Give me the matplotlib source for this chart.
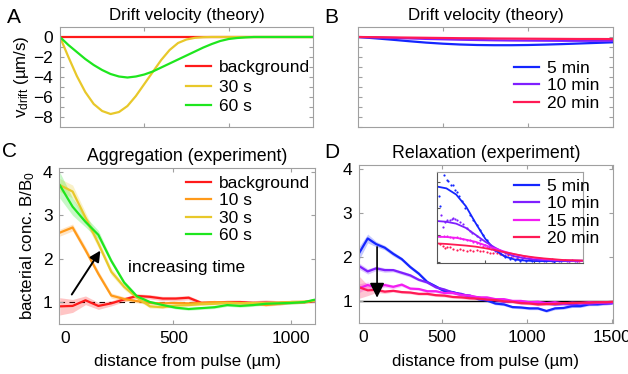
import numpy as np
import matplotlib
matplotlib.use("Agg")
import matplotlib.pyplot as plt

# ---- A: drift velocity (theory), short pulses ----
x_theory = np.arange(0, 1501, 50)
v_background = [0.0] * 31
v_30s = [0, -2.0, -3.9, -5.5, -6.7, -7.4, -7.7, -7.5, -6.9, -5.9, -4.7, -3.5, -2.3, -1.3,
         -0.6, -0.25, -0.08, -0.02, 0, 0, 0, 0, 0, 0, 0, 0, 0, 0, 0, 0, 0]
v_60s = [0, -0.8, -1.5, -2.2, -2.8, -3.3, -3.7, -3.95, -4.05, -3.95, -3.75, -3.45, -3.05,
         -2.65, -2.25, -1.85, -1.45, -1.05, -0.7, -0.4, -0.2, -0.1, -0.04, 0, 0, 0, 0, 0, 0, 0, 0]

# ---- B: drift velocity (theory), relaxation ----
x_relax_theory = np.arange(0, 1501, 100)
v_5min = [0, -0.13, -0.27, -0.42, -0.56, -0.67, -0.75, -0.8, -0.82, -0.82, -0.8, -0.76,
          -0.71, -0.65, -0.59, -0.53]
v_10min = [0, -0.04, -0.09, -0.14, -0.19, -0.23, -0.27, -0.3, -0.33, -0.35, -0.36, -0.37,
           -0.38, -0.38, -0.38, -0.37]
v_20min = [0, -0.02, -0.04, -0.06, -0.08, -0.1, -0.12, -0.13, -0.15, -0.16, -0.17, -0.18,
           -0.19, -0.2, -0.2, -0.21]

# ---- C: aggregation (experiment) ----
x_agg = [15, 70, 125, 180, 235, 290, 345, 400, 455, 510, 565, 620, 675, 730, 785, 840,
         895, 950, 1005, 1060, 1100]
b_background = [0.9, 0.91, 1.04, 0.91, 0.97, 1.06, 1.14, 1.12, 1.08, 1.08, 1.1, 0.98, 0.99,
                1.0, 1.0, 0.98, 0.99, 0.98, 1.0, 1.0, 1.02]
e_background = [0.2, 0.15, 0.1, 0.08, 0.06, 0.05, 0.05, 0.05, 0.05, 0.05, 0.05, 0.04, 0.04,
                0.04, 0.04, 0.05, 0.06, 0.05, 0.04, 0.03, 0.03]
b_10s = [2.6, 2.72, 2.2, 1.65, 1.15, 1.07, 1.02, 0.98, 0.97, 0.98, 0.97, 0.98, 1.0, 0.99,
         0.98, 0.97, 0.93, 0.96, 0.99, 1.0, 1.03]
e_10s = [0.08, 0.08, 0.08, 0.07, 0.06, 0.05, 0.04, 0.04, 0.03, 0.03, 0.03, 0.03, 0.03, 0.03,
         0.03, 0.03, 0.03, 0.03, 0.03, 0.03, 0.03]
b_30s = [3.7, 3.55, 2.95, 2.35, 1.7, 1.35, 1.1, 0.9, 0.88, 0.92, 0.93, 0.95, 0.96, 0.98,
         0.97, 0.98, 0.98, 0.99, 1.0, 1.01, 1.03]
e_30s = [0.15, 0.15, 0.12, 0.1, 0.08, 0.06, 0.05, 0.04, 0.03, 0.03, 0.03, 0.03, 0.03, 0.03,
         0.03, 0.03, 0.03, 0.03, 0.03, 0.03, 0.03]
b_60s = [3.7, 3.2, 2.85, 2.55, 1.95, 1.45, 1.13, 1.0, 0.93, 0.87, 0.84, 0.86, 0.88, 0.93,
         0.91, 0.93, 0.96, 0.97, 0.98, 1.0, 1.05]
e_60s = [0.3, 0.2, 0.12, 0.1, 0.06, 0.05, 0.04, 0.03, 0.03, 0.03, 0.03, 0.03, 0.03, 0.03,
         0.03, 0.03, 0.03, 0.03, 0.03, 0.03, 0.03]

# ---- D: relaxation (experiment) ----
x_rel = [15, 65, 115, 165, 215, 265, 315, 365, 415, 465, 515, 565, 615, 665, 715, 765, 815,
         865, 915, 965, 1015, 1065, 1115, 1165, 1215, 1265, 1315, 1365, 1415, 1465, 1500]
b_5min = [2.1, 2.43, 2.3, 2.22, 2.08, 1.96, 1.78, 1.63, 1.44, 1.34, 1.23, 1.21, 1.15, 1.13,
          1.05, 1.02, 0.95, 0.93, 0.87, 0.86, 0.84, 0.84, 0.78, 0.84, 0.85, 0.89, 0.89,
          0.93, 0.93, 0.95, 0.96]
e_5min = [0.15, 0.1, 0.06, 0.05, 0.05, 0.04, 0.04, 0.04, 0.03, 0.03, 0.03, 0.03, 0.03, 0.03,
          0.03, 0.03, 0.03, 0.03, 0.03, 0.03, 0.03, 0.03, 0.03, 0.03, 0.03, 0.03, 0.03,
          0.03, 0.03, 0.03, 0.03]
b_10min = [1.8, 1.68, 1.75, 1.71, 1.71, 1.65, 1.59, 1.49, 1.43, 1.32, 1.27, 1.2, 1.17, 1.11,
           1.09, 1.04, 1.03, 0.99, 1.0, 0.97, 0.98, 0.94, 0.95, 0.93, 0.94, 0.93, 0.95,
           0.94, 0.96, 0.95, 0.96]
e_10min = [0.07, 0.06, 0.05, 0.05, 0.04, 0.04, 0.04, 0.03, 0.03, 0.03, 0.03, 0.03, 0.03,
           0.03, 0.03, 0.03, 0.03, 0.03, 0.03, 0.03, 0.03, 0.03, 0.03, 0.03, 0.03, 0.03,
           0.03, 0.03, 0.03, 0.03, 0.03]
b_15min = [1.3, 1.37, 1.32, 1.37, 1.33, 1.38, 1.29, 1.28, 1.23, 1.23, 1.19, 1.19, 1.14,
           1.13, 1.09, 1.09, 1.05, 1.05, 1.01, 1.01, 0.98, 0.99, 0.96, 0.98, 0.95, 0.97,
           0.96, 0.98, 0.97, 0.98, 0.98]
e_15min = [0.1, 0.07, 0.05, 0.05, 0.04, 0.04, 0.03, 0.03, 0.03, 0.03, 0.03, 0.03, 0.03,
           0.03, 0.03, 0.03, 0.03, 0.03, 0.03, 0.03, 0.03, 0.03, 0.03, 0.03, 0.03, 0.03,
           0.03, 0.03, 0.03, 0.03, 0.03]
b_20min = [1.32, 1.25, 1.26, 1.22, 1.24, 1.21, 1.2, 1.17, 1.17, 1.14, 1.13, 1.1, 1.09, 1.07,
           1.06, 1.04, 1.03, 1.0, 0.99, 0.96, 0.95, 0.93, 0.94, 0.94, 0.96, 0.96, 0.97,
           0.97, 0.98, 0.98, 0.99]
e_20min = [0.25, 0.12, 0.06, 0.04, 0.03, 0.03, 0.03, 0.03, 0.03, 0.03, 0.03, 0.03, 0.03,
           0.03, 0.03, 0.03, 0.03, 0.03, 0.03, 0.03, 0.03, 0.03, 0.03, 0.03, 0.03, 0.03,
           0.03, 0.03, 0.03, 0.03, 0.03]

# ---- D inset: fits and raw points ----
x_fit = np.arange(0, 1501, 100)
fit_5min = [3.82, 3.75, 3.52, 3.08, 2.45, 1.86, 1.44, 1.2, 1.09, 1.05, 1.03, 1.03, 1.03,
            1.03, 1.04, 1.04]
fit_10min = [2.53, 2.5, 2.43, 2.27, 2.01, 1.75, 1.53, 1.34, 1.21, 1.13, 1.09, 1.07, 1.05,
             1.04, 1.04, 1.04]
fit_15min = [1.94, 1.93, 1.9, 1.83, 1.75, 1.62, 1.5, 1.38, 1.28, 1.21, 1.15, 1.11, 1.08,
             1.06, 1.05, 1.04]
fit_20min = [1.69, 1.67, 1.64, 1.61, 1.57, 1.51, 1.44, 1.36, 1.29, 1.22, 1.17, 1.13, 1.1,
             1.07, 1.06, 1.05]

dots_x_5min = [27, 34, 79, 103, 120, 144, 171, 188, 205, 233, 257, 290, 342, 377, 411, 445,
               480, 514, 548, 580, 617, 660, 700, 750, 800, 860, 920, 980, 1050, 1120, 1200,
               1280, 1360, 1440]
dots_5min = [3.45, 3.08, 4.24, 4.06, 4.01, 3.89, 3.89, 3.7, 3.61, 3.45, 3.26, 3.0, 2.76,
             2.58, 2.39, 2.2, 2.01, 1.83, 1.62, 1.5, 1.39, 1.28, 1.2, 1.12, 1.08, 1.05, 1.03,
             1.02, 1.03, 1.04, 1.01, 1.03, 1.02, 1.04]
dots_x_10min = [45, 60, 86, 110, 137, 160, 171, 190, 205, 240, 274, 308, 342, 360, 411, 445,
                497, 540, 600, 650, 700, 760, 820, 880, 950, 1020, 1100, 1180, 1260, 1340,
                1420]
dots_10min = [2.76, 2.3, 2.51, 2.55, 2.58, 2.62, 2.64, 2.6, 2.58, 2.51, 2.4, 2.26, 2.15,
              2.08, 1.95, 1.83, 1.64, 1.55, 1.42, 1.33, 1.27, 1.2, 1.15, 1.12, 1.09, 1.07,
              1.05, 1.05, 1.04, 1.03, 1.04]
dots_x_15min = [34, 70, 103, 137, 171, 205, 240, 274, 308, 342, 377, 411, 445, 480, 514,
                560, 610, 660, 720, 780, 840, 900, 970, 1040, 1120, 1200, 1280, 1360, 1440]
dots_15min = [1.95, 1.98, 1.95, 1.92, 1.89, 1.93, 1.89, 1.86, 1.83, 1.8, 1.76, 1.72, 1.66,
              1.6, 1.54, 1.5, 1.45, 1.4, 1.33, 1.28, 1.23, 1.2, 1.15, 1.12, 1.1, 1.07, 1.06,
              1.05, 1.05]
dots_x_20min = [34, 60, 86, 110, 137, 170, 205, 240, 274, 308, 342, 377, 411, 445, 480, 514,
                548, 583, 617, 651, 685, 730, 780, 840, 900, 960, 1030, 1100, 1180, 1250,
                1320, 1390, 1460]
dots_20min = [1.66, 1.6, 1.51, 1.56, 1.54, 1.5, 1.45, 1.48, 1.45, 1.42, 1.45, 1.4, 1.45,
              1.41, 1.39, 1.36, 1.33, 1.35, 1.33, 1.28, 1.24, 1.27, 1.22, 1.18, 1.17, 1.13,
              1.12, 1.1, 1.09, 1.08, 1.06, 1.07, 1.05]

RED = '#ff1a1a'
ORANGE = '#ff9a1a'
YELLOW = '#e8c82a'
GREEN = '#1ee61e'
BLUE = '#1426ff'
PURPLE = '#7f1fff'
MAGENTA = '#f21cf2'
CRIMSON = '#ff1a55'
FRAME = '#a0a0a0'
FS_TICK = 12.5
FS_LEG = 12.5
FS_LABEL = 12.2


def style_axes(ax):
    for s in ax.spines.values():
        s.set_color(FRAME)
        s.set_linewidth(0.8)
    ax.tick_params(which='both', direction='in', length=3, width=0.8, color=FRAME,
                   top=True, right=True, labelsize=FS_TICK, pad=5)


def band(ax, x, y, e, color):
    y = np.array(y)
    e = np.array(e)
    ax.fill_between(x, y - e, y + e, color=color, alpha=0.25, lw=0)
    ax.plot(x, y, color=color, lw=1.6)


def zero_label(ax, pos, ticks):
    # the "0" label sits just inside the left edge
    ax.set_xticks([pos] + ticks)
    ax.set_xticklabels(['0'] + [str(t) for t in ticks])
    t = ax.xaxis.get_major_ticks()[0]
    t.tick1line.set_visible(False)
    t.tick2line.set_visible(False)


def leg(ax_or_fig, handles, labels, anchor, spacing=0.12):
    return ax_or_fig.legend(handles, labels, loc='upper left', bbox_to_anchor=anchor,
                            frameon=False, fontsize=FS_LEG, handlelength=1.45,
                            handletextpad=0.45, labelspacing=spacing, borderpad=0,
                            borderaxespad=0)


def main():
    plt.rcParams['font.family'] = ['Liberation Sans', 'DejaVu Sans']
    plt.rcParams['mathtext.fontset'] = 'custom'
    plt.rcParams['mathtext.rm'] = 'Liberation Sans'
    plt.rcParams['mathtext.it'] = 'Liberation Sans'

    fig = plt.figure(figsize=(6.28, 3.74), dpi=100)
    W, H = 628, 374

    # A
    axA = fig.add_axes([0.0955, 0.6604, 0.4029, 0.2674])
    lA = axA.plot(x_theory, v_background, color=RED, lw=1.6)
    lA += axA.plot(x_theory, v_30s, color=YELLOW, lw=1.6)
    lA += axA.plot(x_theory, v_60s, color=GREEN, lw=1.6)
    axA.set_xlim(0, 1500)
    axA.set_ylim(-9, 1)
    axA.set_yticks([0, -2, -4, -6, -8])
    axA.set_yticks([-1, -3, -5, -7], minor=True)
    axA.set_xticks([500, 1000])
    axA.set_xticklabels([])
    style_axes(axA)
    axA.set_ylabel(r'v$_{\mathrm{drift}}$ (µm/s)', fontsize=FS_LABEL, labelpad=2)
    axA.set_title('Drift velocity (theory)', fontsize=12.2, pad=5)
    leg(fig, lA, ['background', '30 s', '60 s'], (186 / W, 1 - 60 / H), spacing=0.25)

    # B
    axB = fig.add_axes([0.5701, 0.6604, 0.4061, 0.2674])
    lB = axB.plot(x_relax_theory, v_5min, color=BLUE, lw=1.6)
    lB += axB.plot(x_relax_theory, v_10min, color=PURPLE, lw=1.6)
    lB += axB.plot(x_relax_theory, v_20min, color=CRIMSON, lw=1.6)
    axB.set_xlim(0, 1500)
    axB.set_ylim(-9, 1)
    axB.set_yticks(np.arange(-9, 1, 1))
    axB.set_yticklabels([])
    axB.set_xticks([500, 1000])
    axB.set_xticklabels([])
    style_axes(axB)
    axB.set_title('Drift velocity (theory)', fontsize=12.2, pad=5)
    leg(fig, lB, ['5 min', '10 min', '20 min'], (514 / W, 1 - 61 / H))

    # C
    axC = fig.add_axes([0.0947, 0.1345, 0.4068, 0.4171])
    axC.axhline(1, color='k', lw=0.8, ls=(0, (5, 4)), zorder=1)
    band(axC, x_agg, b_background, e_background, RED)
    band(axC, x_agg, b_10s, e_10s, ORANGE)
    band(axC, x_agg, b_30s, e_30s, YELLOW)
    band(axC, x_agg, b_60s, e_60s, GREEN)
    axC.set_xlim(14, 1104)
    axC.set_ylim(0.5, 4.1)
    axC.set_yticks([1, 2, 3, 4])
    style_axes(axC)
    zero_label(axC, 38, [500, 1000])
    axC.set_ylabel(r'bacterial conc. B/B$_0$', fontsize=FS_LABEL, labelpad=4)
    axC.set_xlabel('distance from pulse (µm)', fontsize=FS_LABEL, labelpad=6)
    axC.set_title('Aggregation (experiment)', fontsize=12.8, pad=5)
    hC = [plt.Line2D([], [], color=c, lw=1.6) for c in (RED, ORANGE, YELLOW, GREEN)]
    leg(fig, hC, ['background', '10 s', '30 s', '60 s'], (186 / W, 1 - 176 / H))
    axC.annotate('', xy=(195, 2.24), xytext=(60, 1.12),
                 arrowprops=dict(arrowstyle='-|>', color='k', lw=1.4, mutation_scale=16))
    axC.text(307, 1.79, 'increasing time', fontsize=FS_LEG, va='center', ha='left')

    # D
    axD = fig.add_axes([0.5717, 0.1355, 0.4037, 0.4233])
    axD.axhline(1, color='k', lw=1.0, zorder=1)
    band(axD, x_rel, b_5min, e_5min, BLUE)
    band(axD, x_rel, b_10min, e_10min, PURPLE)
    band(axD, x_rel, b_15min, e_15min, MAGENTA)
    band(axD, x_rel, b_20min, e_20min, CRIMSON)
    axD.set_xlim(14, 1503)
    axD.set_ylim(0.5, 4.1)
    axD.set_yticks([1, 2, 3, 4])
    style_axes(axD)
    zero_label(axD, 38, [500, 1000, 1500])
    axD.set_xlabel('distance from pulse (µm)', fontsize=FS_LABEL, labelpad=6)
    axD.set_title('Relaxation (experiment)', fontsize=12.8, pad=5)
    axD.annotate('', xy=(120, 1.02), xytext=(120, 2.3),
                 arrowprops=dict(arrowstyle='-|>', color='k', lw=1.2, mutation_scale=22))

    # inset
    axI = fig.add_axes([0.6954, 0.2955, 0.2325, 0.2455])
    for xs, ys, c in ((dots_x_5min, dots_5min, BLUE), (dots_x_10min, dots_10min, PURPLE),
                      (dots_x_15min, dots_15min, MAGENTA), (dots_x_20min, dots_20min, CRIMSON)):
        axI.scatter(xs, ys, s=2.5, color=c, lw=0)
    axI.plot(x_fit, fit_5min, color=BLUE, lw=1.3)
    axI.plot(x_fit, fit_10min, color=PURPLE, lw=1.3)
    axI.plot(x_fit, fit_15min, color=MAGENTA, lw=1.3)
    axI.plot(x_fit, fit_20min, color=CRIMSON, lw=1.3)
    axI.set_xlim(0, 1500)
    axI.set_ylim(0.94, 4.375)
    axI.set_xticks([500, 1000])
    axI.set_yticks([1, 2, 3, 4])
    axI.set_xticklabels([])
    axI.set_yticklabels([])
    for s in axI.spines.values():
        s.set_color(FRAME)
        s.set_linewidth(0.8)
    axI.spines['left'].set_color('#555555')
    axI.spines['bottom'].set_color('#555555')
    axI.tick_params(direction='in', length=2.5, width=0.8, color='#555555')
    hD = [plt.Line2D([], [], color=c, lw=1.6) for c in (BLUE, PURPLE, MAGENTA, CRIMSON)]
    leg(fig, hD, ['5 min', '10 min', '15 min', '20 min'], (514 / W, 1 - 179 / H))

    # panel letters
    for lbl, x, y in (('A', 7, 23), ('B', 324, 23), ('C', 2, 157), ('D', 324, 158)):
        fig.text(x / W, 1 - y / H, lbl, fontsize=15, ha='left', va='baseline')

    fig.savefig('out.png', dpi=100)


if __name__ == "__main__":
    main()
